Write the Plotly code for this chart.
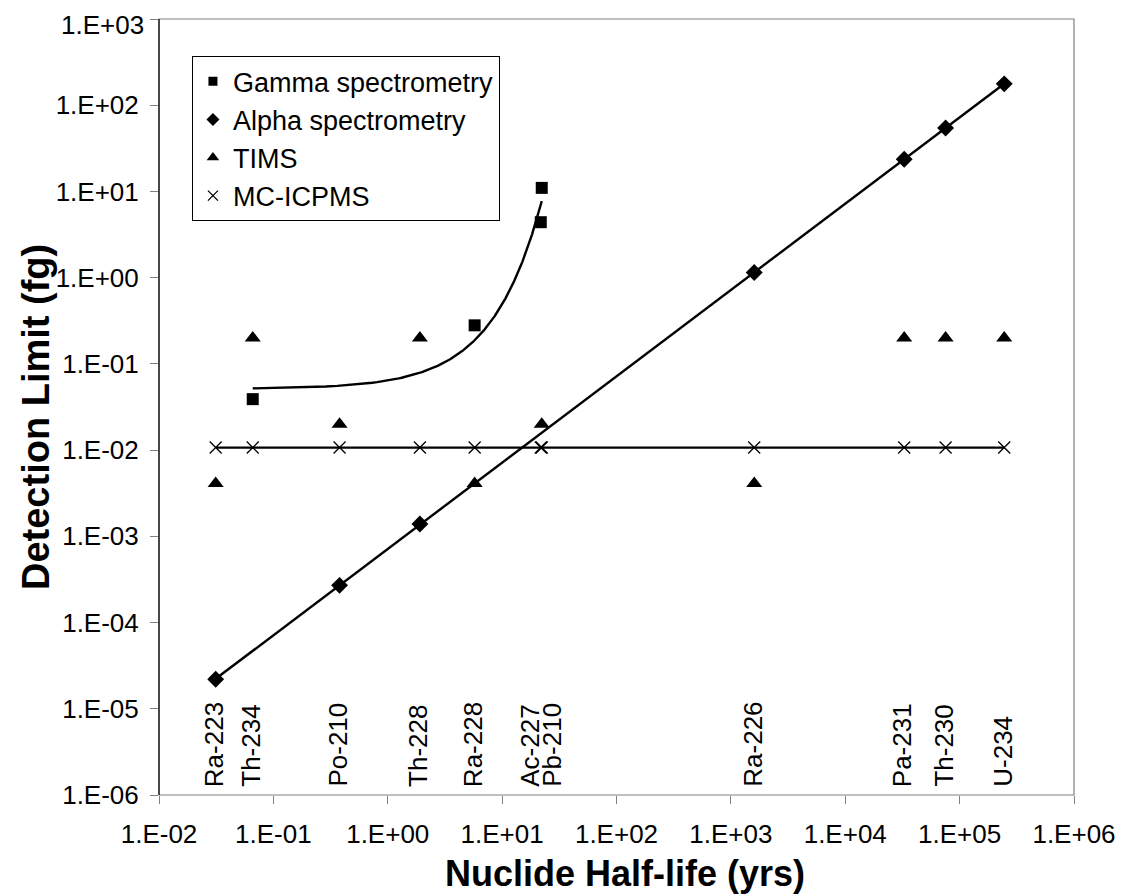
import numpy as np
import plotly.graph_objects as go

# ---------------- data ----------------
nuclides = ["Ra-223", "Th-234", "Po-210", "Th-228", "Ra-228", "Ac-227",
            "Pb-210", "Ra-226", "Pa-231", "Th-230", "U-234"]
half_life = [0.0313, 0.066, 0.379, 1.91, 5.75, 21.77, 22.2, 1600, 32760, 75380, 245500]

gamma_nuclides = ["Th-234", "Ra-228", "Ac-227", "Pb-210"]
gamma_dl = [0.039, 0.28, 4.4, 11.0]

alpha_nuclides = ["Ra-223", "Po-210", "Th-228", "Ra-226", "Pa-231", "Th-230", "U-234"]
alpha_dl = [2.2e-5, 2.7e-4, 1.39e-3, 1.15, 23.6, 54.5, 177.0]

tims_nuclides = ["Ra-223", "Th-234", "Po-210", "Th-228", "Ra-228", "Pb-210",
                 "Ra-226", "Pa-231", "Th-230", "U-234"]
tims_dl = [0.0041, 0.2, 0.02, 0.2, 0.0041, 0.02, 0.0041, 0.2, 0.2, 0.2]

icpms_nuclides = nuclides
icpms_dl = [0.0107] * len(nuclides)

x_tickvals = [1e-2, 1e-1, 1e0, 1e1, 1e2, 1e3, 1e4, 1e5, 1e6]
x_ticktext = ["1.E-02", "1.E-01", "1.E+00", "1.E+01", "1.E+02", "1.E+03",
              "1.E+04", "1.E+05", "1.E+06"]
y_tickvals = [1e-6, 1e-5, 1e-4, 1e-3, 1e-2, 1e-1, 1e0, 1e1, 1e2, 1e3]
y_ticktext = ["1.E-06", "1.E-05", "1.E-04", "1.E-03", "1.E-02", "1.E-01",
              "1.E+00", "1.E+01", "1.E+02", "1.E+03"]

label_shift = {"Ac-227": -11, "Pb-210": 10}

# ---------------- helpers ----------------
hl = dict(zip(nuclides, half_life))
gx = np.array([hl[n] for n in gamma_nuclides])
ax_ = np.array([hl[n] for n in alpha_nuclides])
tx = np.array([hl[n] for n in tims_nuclides])
ix = np.array([hl[n] for n in icpms_nuclides])

FONT = "Arial, Liberation Sans, Helvetica, sans-serif"

# exponential trendline for gamma (Excel-style)
c1, c0 = np.polyfit(gx, np.log(gamma_dl), 1)
gfit_x = np.linspace(gx.min(), gx.max(), 300)
gfit_y = np.exp(c0 + c1 * gfit_x)

# power trendline for alpha
p1, p0 = np.polyfit(np.log10(ax_), np.log10(alpha_dl), 1)
afit_x = np.logspace(np.log10(ax_.min()), np.log10(ax_.max()), 50)
afit_y = 10 ** (p0 + p1 * np.log10(afit_x))

# constant line for MC-ICPMS
ifit_x = [ix.min(), ix.max()]
ifit_y = [float(np.mean(icpms_dl))] * 2

fig = go.Figure()

line_style = dict(color="black", width=2.4)
fig.add_trace(go.Scatter(x=gfit_x, y=gfit_y, mode="lines", line=line_style,
                         showlegend=False, hoverinfo="skip"))
fig.add_trace(go.Scatter(x=afit_x, y=afit_y, mode="lines", line=line_style,
                         showlegend=False, hoverinfo="skip"))
fig.add_trace(go.Scatter(x=ifit_x, y=ifit_y, mode="lines", line=line_style,
                         showlegend=False, hoverinfo="skip"))

# data markers
fig.add_trace(go.Scatter(x=gx, y=gamma_dl, mode="markers", showlegend=False,
                         marker=dict(symbol="square", size=12, color="black")))
fig.add_trace(go.Scatter(x=ax_, y=alpha_dl, mode="markers", showlegend=False,
                         marker=dict(symbol="diamond", size=13, color="black")))
fig.add_trace(go.Scatter(x=ix, y=icpms_dl, mode="markers", showlegend=False,
                         marker=dict(symbol="x-thin", size=12, color="black",
                                     line=dict(color="black", width=1.3))))
fig.add_trace(go.Scatter(x=tx, y=tims_dl, mode="markers", showlegend=False,
                         marker=dict(symbol="triangle-up", size=14, color="black")))

# legend-only entries
legend_specs = [
    ("Gamma spectrometry", dict(symbol="square", size=9, color="black")),
    ("Alpha spectrometry", dict(symbol="diamond", size=10, color="black")),
    ("TIMS", dict(symbol="triangle-up", size=11, color="black")),
    ("MC-ICPMS", dict(symbol="x-thin", size=10, color="black",
                      line=dict(color="black", width=1.3))),
]
for name, mk in legend_specs:
    fig.add_trace(go.Scatter(x=[None], y=[None], mode="markers", name=name, marker=mk))

# nuclide labels
for n, h in zip(nuclides, half_life):
    fig.add_annotation(x=np.log10(h), y=-6, xref="x", yref="y", text=n,
                       textangle=-90, showarrow=False, xanchor="center",
                       yanchor="bottom", yshift=6, xshift=label_shift.get(n, -2),
                       font=dict(family=FONT, size=26, color="black"))

# top y tick label as annotation so it stays inside the figure
y_axis_text = list(y_ticktext[:-1]) + [""]
fig.add_annotation(x=0, y=1, xref="paper", yref="paper", text=y_ticktext[-1],
                   showarrow=False, xanchor="right", yanchor="top",
                   xshift=-13, yshift=11,
                   font=dict(family=FONT, size=26, color="black"))

# axis titles as annotations (placed like the reference)
fig.add_annotation(x=0, y=0.5, xref="paper", yref="paper",
                   text="<b>Detection Limit (fg)</b>", textangle=-90,
                   showarrow=False, xanchor="center", yanchor="middle",
                   xshift=-123, yshift=-10,
                   font=dict(family=FONT, size=38, color="black"))
fig.add_annotation(x=0.5, y=0, xref="paper", yref="paper",
                   text="<b>Nuclide Half-life (yrs)</b>",
                   showarrow=False, xanchor="center", yanchor="middle",
                   xshift=8, yshift=-78,
                   font=dict(family=FONT, size=36, color="black"))

# plot-area border (gray) and black left axis line
fig.add_shape(type="rect", xref="paper", yref="paper", x0=0, y0=0, x1=1, y1=1,
              line=dict(color="#808080", width=1.2), layer="above")
fig.add_shape(type="line", xref="paper", yref="paper", x0=0, y0=0, x1=0, y1=1,
              line=dict(color="black", width=1.2), layer="above")

# page has an 8px body margin, so the figure is 8px smaller and margins shifted
fig.update_layout(
    width=1130, height=887,
    margin=dict(l=151, r=64, t=11, b=100, autoexpand=False),
    paper_bgcolor="white", plot_bgcolor="white",
    font=dict(family=FONT, color="black"),
    showlegend=True,
    legend=dict(x=0.036, y=0.952, xanchor="left", yanchor="top",
                bgcolor="white", bordercolor="black", borderwidth=1,
                font=dict(family=FONT, size=27, color="black"),
                itemwidth=30, tracegroupgap=0),
)

fig.update_xaxes(type="log", range=[-2, 6], tickvals=x_tickvals, ticktext=x_ticktext,
                 ticks="outside", ticklen=8, tickcolor="#808080", tickwidth=1,
                 showline=False, showgrid=False, zeroline=False,
                 ticklabelstandoff=8, automargin=False, ticklabeloverflow="allow",
                 tickfont=dict(family=FONT, size=26, color="black"))
fig.update_yaxes(type="log", range=[-6, 3], tickvals=y_tickvals, ticktext=y_axis_text,
                 ticks="outside", ticklen=8, tickcolor="#808080", tickwidth=1,
                 showline=False, showgrid=False, zeroline=False,
                 ticklabelstandoff=6, automargin=False, ticklabeloverflow="allow",
                 tickfont=dict(family=FONT, size=26, color="black"))

fig.write_html("out.html")
